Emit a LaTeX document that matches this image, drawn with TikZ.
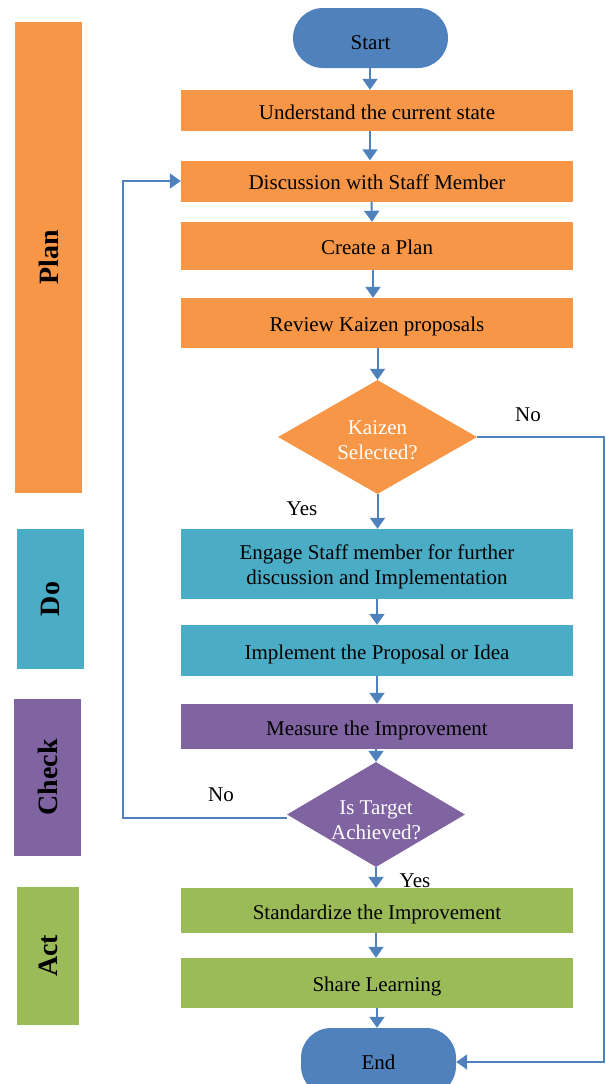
\documentclass[tikz,border=0pt]{standalone}
\usepackage{fontspec}
\setmainfont{Liberation Serif}
\usetikzlibrary{shapes.geometric,arrows.meta}
\definecolor{corange}{HTML}{F79646}
\definecolor{cblue}{HTML}{4F81BD}
\definecolor{cteal}{HTML}{4BACC6}
\definecolor{cpurple}{HTML}{8064A2}
\definecolor{cgreen}{HTML}{9BBB59}
\tikzset{
  box/.style={rectangle, draw=none, minimum width=392pt, inner sep=0pt, align=center, font=\fontsize{21}{24.5}\selectfont},
  one/.style={text height=17pt, text depth=0pt},
  term/.style={rectangle, rounded corners=30pt, fill=cblue, draw=none, minimum width=155pt, inner sep=0pt, font=\fontsize{21}{25}\selectfont},
  decision/.style={diamond, draw=none, inner sep=0pt},
  dtext/.style={inner sep=0pt, align=center, text=white, font=\fontsize{21}{24.5}\selectfont},
  btext/.style={inner sep=0pt, align=center, font=\fontsize{21}{24.5}\selectfont},
  phase/.style={rectangle, rotate=90, draw=none, inner sep=0pt, font=\bfseries\fontsize{28}{30}\selectfont},
  arr/.style={draw=cblue, line width=2pt, -{Triangle[length=11pt,width=15pt]}},
  lbl/.style={inner sep=0pt, font=\fontsize{21}{25}\selectfont}
}
\begin{document}
\begin{tikzpicture}[x=1pt,y=-1pt]
\useasboundingbox (0,0) rectangle (605,1084);
\clip (0,0) rectangle (605,1084);

% phase bars
\node[phase, fill=corange, minimum width=471pt, minimum height=67pt] (plan) at (48.5,257.5) {Plan};
\node[phase, fill=cteal, minimum width=140pt, minimum height=67pt] (do) at (50.5,599) {Do};
\node[phase, fill=cpurple, minimum width=157pt, minimum height=67pt] (check) at (47.5,777.5) {Check};
\node[phase, fill=cgreen, minimum width=138pt, minimum height=62pt] (act) at (48,956) {Act};

% flow nodes
\node[term, minimum height=60pt, text height=22pt, text depth=0pt] (start) at (370.5,38) {Start};
\node[box, one, fill=corange, minimum height=41pt] (u) at (377,110.5) {Understand the current state};
\node[box, one, fill=corange, minimum height=41pt] (disc) at (377,181) {Discussion with Staff Member};
\node[box, one, fill=corange, minimum height=48pt] (cp) at (377,246) {Create a Plan};
\node[box, one, fill=corange, minimum height=50pt] (rev) at (377,323) {Review Kaizen proposals};
\node[decision, fill=corange, minimum width=199pt, minimum height=114pt] (kz) at (377.5,437) {};
\node[dtext] (kzt) at (377.5,440) {Kaizen\\Selected?};
\node[box, fill=cteal, minimum height=70pt] (eng) at (377,564) {};
\node[btext] (engt) at (377,567) {Engage Staff member for further\\discussion and Implementation};
\node[box, one, fill=cteal, minimum height=51pt] (imp) at (377,650.5) {Implement the Proposal or Idea};
\node[box, one, fill=cpurple, minimum height=45pt] (mea) at (377,726.5) {Measure the Improvement};
\node[decision, fill=cpurple, minimum width=178pt, minimum height=105pt] (tg) at (376,814.5) {};
\node[dtext] (tgt) at (376,820.5) {Is Target\\Achieved?};
\node[box, one, fill=cgreen, minimum height=45pt] (std) at (377,910.5) {Standardize the Improvement};
\node[box, one, fill=cgreen, minimum height=50pt] (sh) at (377,983) {Share Learning};
\node[term, minimum height=68pt] (end) at (378.5,1062) {End};

% labels
\node[lbl] (no1) at (528,415) {No};
\node[lbl] (yes1) at (302,509) {Yes};
\node[lbl] (no2) at (221,795) {No};
\node[lbl] (yes2) at (415,881) {Yes};

% helper coordinates
\coordinate (rc) at (604,0);
\coordinate (lc) at (123,0);

% connectors
\draw[arr] ([xshift=-0.5pt]start.south) -- ([xshift=-7pt]u.north);
\draw[arr] ([xshift=-7pt]u.south) -- ([xshift=-7pt]disc.north);
\draw[arr] ([xshift=-5.5pt]disc.south) -- ([xshift=-5pt]cp.north);
\draw[arr] ([xshift=-4pt]cp.south) -- ([xshift=-4pt]rev.north);
\draw[arr] (rev.south -| kz.north) -- (kz.north);
\draw[arr] (kz.south) -- (kz.south |- eng.north);
\draw[arr] (eng.south) -- (imp.north);
\draw[arr] (imp.south) -- (mea.north);
\draw[arr] (mea.south -| tg.north) -- (tg.north);
\draw[arr] (tg.south) -- (tg.south |- std.north);
\draw[arr] ([xshift=-1pt]std.south) -- ([xshift=-1pt]sh.north);
\draw[arr] (sh.south) -- (sh.south |- end.north);
\draw[arr] (kz.east) -- (kz.east -| rc) -- (rc |- end.east) -- (end.east);
\draw[arr] ([yshift=-3pt]tg.west) -- ([yshift=-3pt]tg.west -| lc) -- (lc |- disc.west) -- (disc.west);
\end{tikzpicture}
\end{document}
